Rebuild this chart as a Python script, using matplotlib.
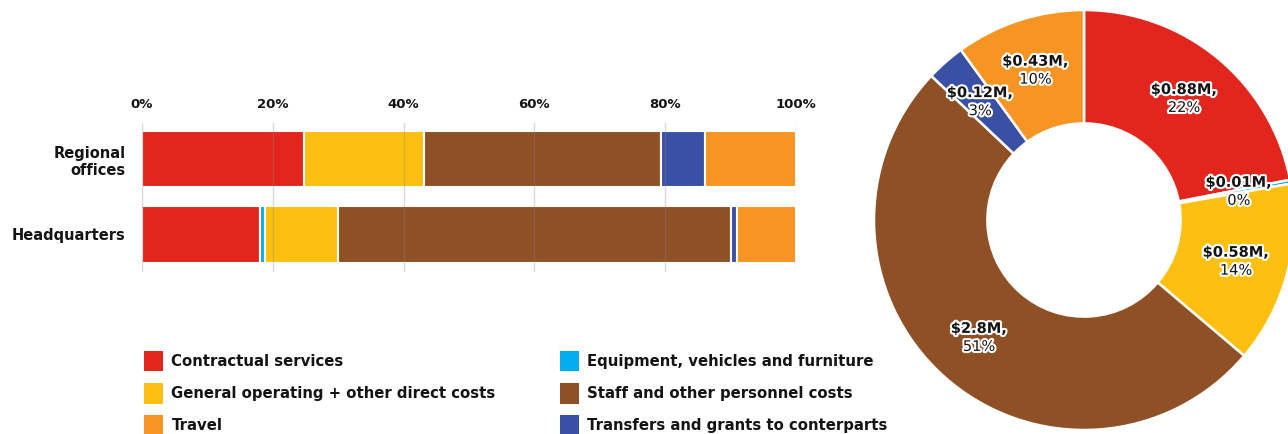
import matplotlib
matplotlib.use("Agg")
import matplotlib.pyplot as plt
import matplotlib.patheffects as pe
from matplotlib.patches import Patch
import numpy as np

# Spending categories (shared by the bars, the donut and the legend)
categories = [
    "Contractual services",
    "Equipment, vehicles and furniture",
    "General operating + other direct costs",
    "Staff and other personnel costs",
    "Transfers and grants to conterparts",
    "Travel",
]
colors = ["#E2261E", "#00AEEF", "#FDC010", "#8F5026", "#3A50A4", "#F69523"]

# Share of spending by office type (%)
offices = ["Regional\noffices", "Headquarters"]
regional_pct = [24.8, 0.0, 18.3, 36.3, 6.7, 13.9]
hq_pct = [18.0, 0.8, 11.2, 60.1, 0.9, 9.0]

# Overall totals (US$ millions) and shares (%) for the donut
donut_musd = [0.88, 0.01, 0.58, 2.8, 0.12, 0.43]
donut_share = [22, 0.3, 14, 51, 3, 10]

xticks = [0, 20, 40, 60, 80, 100]

TXT = "#141414"
W, H = 1288, 434
fig = plt.figure(figsize=(W / 100, H / 100), dpi=100)


def fx(px):
    return px / W


def fy(py):
    return 1 - py / H


# ---------------- stacked horizontal bars ----------------
ax = fig.add_axes([fx(142), fy(272), fx(796) - fx(142), fy(123) - fy(272)])
bar_values = np.array([regional_pct, hq_pct])
ypos = np.arange(len(offices))
left = np.zeros(len(offices))
for i, col in enumerate(colors):
    vals = bar_values[:, i]
    mask = vals > 0
    ax.barh(ypos[mask], vals[mask], left=left[mask], height=0.75, color=col,
            edgecolor="white", linewidth=1.5, zorder=2)
    left += vals

ax.set_xlim(0, 100)
ax.set_ylim(1.5, -0.48)
ax.xaxis.tick_top()
ax.set_xticks(xticks)
ax.set_xticklabels([f"{t}%" for t in xticks], fontsize=9.5, fontweight="bold", color=TXT)
ax.set_yticks(ypos)
ax.set_yticklabels(offices, fontsize=10.5, fontweight="bold", color=TXT)
ax.tick_params(axis="x", length=0, pad=9)
ax.tick_params(axis="y", length=0, pad=12)
ax.grid(axis="x", color="#888888", alpha=0.32, linewidth=1)
ax.set_axisbelow(False)
for s in ax.spines.values():
    s.set_visible(False)

# ---------------- legend (two columns) ----------------
handles = [Patch(facecolor=c, edgecolor="none") for c in colors]
leg_kw = dict(frameon=False, handlelength=1.3, handleheight=1.73,
              handletextpad=0.55, labelspacing=0.8, borderpad=0, borderaxespad=0,
              loc="upper left", prop={"weight": "bold", "size": 10.7})
col1 = [0, 2, 5]
col2 = [1, 3, 4]
leg1 = fig.legend([handles[i] for i in col1], [categories[i] for i in col1],
                  bbox_to_anchor=(fx(144), fy(351)), **leg_kw)
leg2 = fig.legend([handles[i] for i in col2], [categories[i] for i in col2],
                  bbox_to_anchor=(fx(560), fy(351)), **leg_kw)
for leg in (leg1, leg2):
    for t in leg.get_texts():
        t.set_color(TXT)

# ---------------- donut ----------------
R_PX = 210
pax = fig.add_axes([fx(1084 - R_PX), fy(220 + R_PX), 2 * R_PX / W, 2 * R_PX / H])
wedges, _ = pax.pie(donut_share, colors=colors, startangle=90, counterclock=False,
                    radius=1, wedgeprops=dict(width=0.54, edgecolor="white", linewidth=1.8))
pax.set_xlim(-1, 1)
pax.set_ylim(-1, 1)
pax.set_aspect("equal")

stroke = [pe.withStroke(linewidth=3, foreground="white")]
r_lab = 0.75
dy = 9 / R_PX
for w, m, p in zip(wedges, donut_musd, donut_share):
    ang = np.deg2rad((w.theta1 + w.theta2) / 2)
    x, y = r_lab * np.cos(ang), r_lab * np.sin(ang)
    pax.text(x, y + dy, f"${m:g}M,", ha="center", va="center", fontsize=10.5,
             fontweight="bold", color=TXT, path_effects=stroke)
    pax.text(x, y - dy, f"{round(p)}%", ha="center", va="center", fontsize=10.5,
             color=TXT, path_effects=stroke)

fig.savefig("out.png", dpi=100)
